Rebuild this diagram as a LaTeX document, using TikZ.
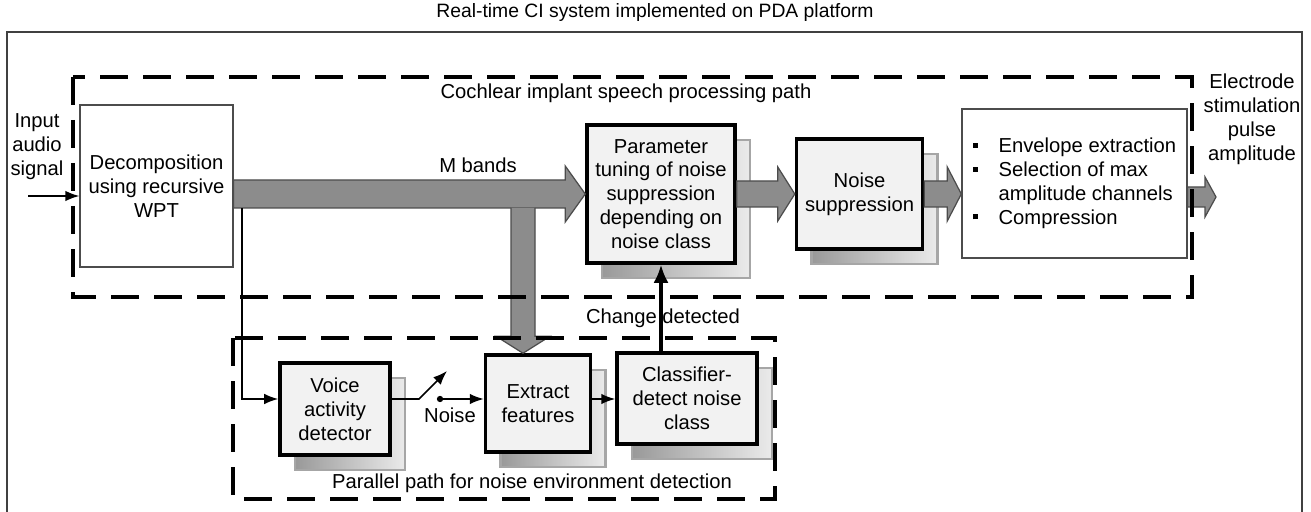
\documentclass[tikz,border=0pt]{standalone}
\usepackage{fontspec}
\setmainfont{Liberation Sans}
\usetikzlibrary{positioning,calc,shadows,arrows.meta}

\newcommand{\sqbullet}{\rule[0.45ex]{1mm}{1mm}}
% fat gray arrow: from, to, half band, half head, head length
\newcommand{\fatarrow}[5]{%
  \draw[fatarrow] let \p1=(#1), \p2=(#2) in
    (\x1,{\y2+#3}) -- ({\x2-#5},{\y2+#3}) -- ({\x2-#5},{\y2+#4}) -- (\x2,\y2)
    -- ({\x2-#5},{\y2-#4}) -- ({\x2-#5},{\y2-#3}) -- (\x1,{\y2-#3}) -- cycle;}

\begin{document}
\begin{tikzpicture}[
    x=0.2mm, y=-0.2mm,
    font=\fontsize{11.5}{13.6}\selectfont,
    plain/.style={rectangle, draw=black!70, line width=0.7pt, fill=white, align=center, inner sep=0pt},
    block/.style={rectangle, draw=black, line width=2pt, fill=black!5, align=center, inner sep=0pt,
        general shadow={shadow xshift=3mm, shadow yshift=-3mm, left color=black!40, right color=black!8,
        draw=black!35, line width=1.2pt}},
    dashbox/.style={dash pattern=on 5.6mm off 3mm, line width=2.2pt},
    sig/.style={-{Latex[length=2.8mm,width=2.1mm]}, line width=0.9pt},
    fatarrow/.style={fill=black!45, draw=black!70, line width=0.7pt},
    lbl/.style={align=center, inner sep=0pt}
]
    \useasboundingbox (0,0) rectangle (1311,512);
    \node[lbl, font=\fontsize{11}{13}\selectfont] (title) at (655,13) {Real-time CI system implemented on PDA platform};
    \draw[black!75, line width=1pt] (7,515) -- (7,32) -- (1302,32) -- (1302,515);

    % upper path
    \node[plain, minimum width=30.6mm, minimum height=32.4mm] (decomp) at (156.5,186) {Decomposition\\using recursive\\WPT};
    \node[block, minimum width=29.6mm, minimum height=27.6mm] (param) at (661,194) {Parameter\\tuning of noise\\suppression\\depending on\\noise class};
    \node[block, minimum width=25.2mm, minimum height=22mm, right=11.6mm of param] (ns) {Noise\\suppression};
    \node[plain, minimum width=45mm, minimum height=29.8mm, right=7.4mm of ns, yshift=2.1mm] (env)
        {\begin{tabular}{@{}l@{\hspace{4.2mm}}l@{}}
         \sqbullet & Envelope extraction\\
         \sqbullet & Selection of max\\
                   & amplitude channels\\
         \sqbullet & Compression
         \end{tabular}};

    % lower path
    \node[block, minimum width=22mm, minimum height=18.4mm] (vad) at (335,409) {Voice\\activity\\detector};
    \node[block, minimum width=21mm, minimum height=19.4mm, right=18.4mm of vad, yshift=1.1mm] (feat) {Extract\\features};
    \node[block, minimum width=28mm, minimum height=18.2mm, right=4.6mm of feat, yshift=1mm] (cls) {Classifier-\\detect noise\\class};

    % labels
    \node[lbl] (inlbl) at (37,147) {Input\\audio\\signal};
    \node[lbl] (outlbl) at (1252,119) {Electrode\\stimulation\\pulse\\amplitude};
    \node[lbl] (cipath) at (626,93) {Cochlear implant speech processing path};
    \node[lbl] (mbands) at (478,165) {M bands};
    \node[lbl] (chg) at (663,318) {Change detected};
    \node[lbl] (noise) at (450,415) {Noise};
    \node[lbl] (parpath) at (532,483) {Parallel path for noise environment detection};

    % fat arrows
    \coordinate (out) at (1216,197);
    \coordinate (drop) at (523,208);
    \fatarrow{decomp.east}{param.west}{2.8mm}{5.6mm}{4mm}
    \fatarrow{param.east}{ns.west}{2.6mm}{5.4mm}{3.4mm}
    \fatarrow{ns.east}{env.west |- ns.east}{2.6mm}{5.4mm}{2.8mm}
    \fatarrow{env.east |- out}{out}{2mm}{4mm}{2.2mm}
    \draw[fatarrow] let \p1=(drop), \p2=(drop |- feat.north) in
        ({\x1-2.4mm},\y1) -- ({\x1-2.4mm},{\y2+3.4mm}) -- ({\x1-5.4mm},{\y2+3.4mm}) -- (\x2,\y2)
        -- ({\x1+5.4mm},{\y2+3.4mm}) -- ({\x1+2.4mm},{\y2+3.4mm}) -- ({\x1+2.4mm},\y1);

    % signal lines
    \coordinate (in) at (28,196);
    \coordinate (tap) at (242,208);
    \coordinate (dot) at (440,399);
    \coordinate (pivot) at (419,399);
    \coordinate (swtip) at (447,371);
    \draw[sig] (in) -- (in -| decomp.west);
    \draw[sig] (tap) |- ([yshift=2mm]vad.west);
    \draw[sig] (dot -| vad.east) -- (pivot) -- (swtip);
    \fill (dot) circle (1.8pt);
    \draw[sig] (dot) -- (dot -| feat.west);
    \draw[sig] (dot -| feat.east) -- (dot -| cls.west);
    \draw[sig, line width=1.8pt, -{Latex[length=3.6mm,width=3mm]}] (param.south |- cls.north) -- (param.south);

    % dashed regions
    \draw[dashbox] (73,77) rectangle (1192,297);
    \draw[dashbox] (233,338) rectangle (775,499);
\end{tikzpicture}
\end{document}
